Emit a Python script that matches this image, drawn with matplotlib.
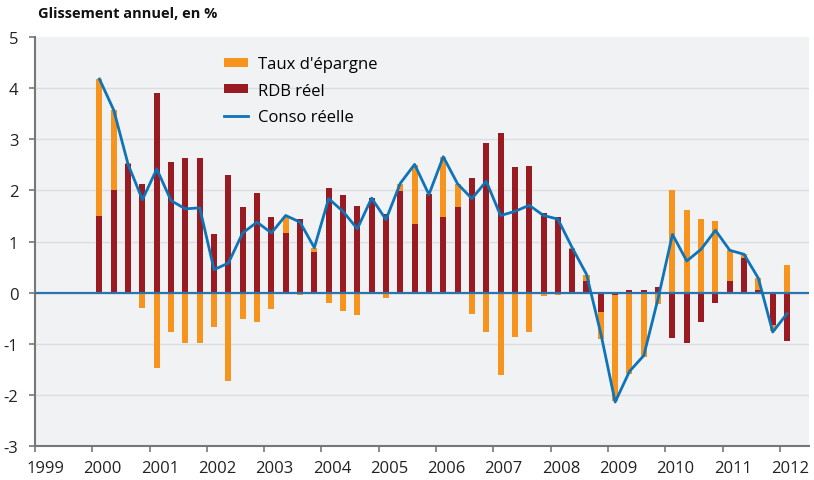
import numpy as np
import matplotlib
matplotlib.use('Agg')
from matplotlib import pyplot as plt

plt.rcParams['font.family'] = ['Open Sans', 'DejaVu Sans']
plt.rcParams['axes.unicode_minus'] = False

# trimestres 2000T1 -> 2012T1
quarters = np.arange(2000, 2012.01, 0.25) + 0.125

rdb = [1.51, 2.01, 2.51, 2.13, 3.91, 2.56, 2.64, 2.64, 1.14, 2.31, 1.68, 1.95,
       1.49, 1.16, 1.45, 0.79, 2.05, 1.92, 1.70, 1.85, 1.53, 1.99, 1.35, 1.94,
       1.49, 1.68, 2.25, 2.93, 3.12, 2.46, 2.48, 1.56, 1.49, 0.85, 0.22, -0.38,
       -0.05, 0.05, 0.05, 0.12, -0.89, -0.99, -0.58, -0.20, 0.22, 0.67, 0.05, -0.64,
       -0.95]
epargne = [2.67, 1.56, 0.02, -0.30, -1.47, -0.77, -0.98, -0.98, -0.67, -1.72, -0.52, -0.57,
           -0.32, 0.35, -0.05, 0.09, -0.21, -0.36, -0.44, 0.01, -0.10, 0.14, 1.15, -0.02,
           1.17, 0.45, -0.42, -0.77, -1.62, -0.86, -0.77, -0.06, -0.05, 0.02, 0.12, -0.52,
           -2.07, -1.60, -1.26, -0.23, 2.01, 1.61, 1.44, 1.40, 0.61, 0.08, 0.23, -0.11,
           0.54]
conso = [4.18, 3.57, 2.51, 1.82, 2.42, 1.80, 1.64, 1.66, 0.45, 0.58, 1.17, 1.38,
         1.17, 1.51, 1.38, 0.88, 1.84, 1.59, 1.25, 1.85, 1.43, 2.14, 2.51, 1.92,
         2.66, 2.13, 1.84, 2.18, 1.51, 1.59, 1.71, 1.51, 1.44, 0.88, 0.36, -0.80,
         -2.14, -1.54, -1.23, -0.11, 1.14, 0.62, 0.85, 1.22, 0.83, 0.75, 0.28, -0.77,
         -0.41]
years = list(range(1999, 2013))

c_ep = '#f7941d'
c_rdb = '#9a1a21'
c_conso = '#0e74b9'

rdb = np.array(rdb)
epargne = np.array(epargne)
ep_bottom = np.where(np.sign(rdb) == np.sign(epargne), rdb, 0)

fig = plt.figure(figsize=(8.14, 4.81), dpi=100)
ax = fig.add_axes([0.043, 0.0707, 0.951, 0.85])
ax.set_facecolor('#f1f2f4')

w = 0.105
b_rdb = ax.bar(quarters, rdb, width=w, color=c_rdb, zorder=2)
b_ep = ax.bar(quarters, epargne, width=w, bottom=ep_bottom, color=c_ep, zorder=2)
ax.axhline(0, color='#2a74ad', lw=1.6, zorder=3)
l_conso, = ax.plot(quarters, conso, color=c_conso, lw=2.0, zorder=4)

ax.set_xlim(1999, 2012.51)
ax.set_ylim(-3, 5)
ax.set_yticks(range(-3, 6))
for y in range(-2, 5):
    ax.axhline(y, color='#dcdde0', lw=1.0, zorder=1)

ax.set_xticks(years)
ax.set_xticklabels([])
ax.set_xticks([y + 0.18 for y in years], minor=True)
ax.set_xticklabels([str(y) for y in years], minor=True)
ax.tick_params(axis='x', which='minor', length=0, pad=10, labelsize=12, colors='#222222')
ax.tick_params(axis='x', which='major', length=4, width=1.2, color='#777777')
ax.tick_params(axis='y', length=4, width=1.2, color='#777777', pad=8, labelsize=12, labelcolor='#222222')

for s in ['top', 'right']:
    ax.spines[s].set_visible(False)
for s in ['left', 'bottom']:
    ax.spines[s].set_color('#777777')
    ax.spines[s].set_linewidth(1.5)

ax.legend([b_ep, b_rdb, l_conso], ["Taux d'épargne", 'RDB réel', 'Conso réelle'],
          loc='upper left', bbox_to_anchor=(0.225, 0.99), frameon=False, fontsize=12,
          handlelength=1.45, handleheight=0.45, labelspacing=0.62, handletextpad=0.6)

fig.text(0.047, 0.97, 'Glissement annuel, en %', fontsize=10.5, fontweight='bold',
         va='center', ha='left', color='#111111')

fig.savefig('out.png', dpi=100)
